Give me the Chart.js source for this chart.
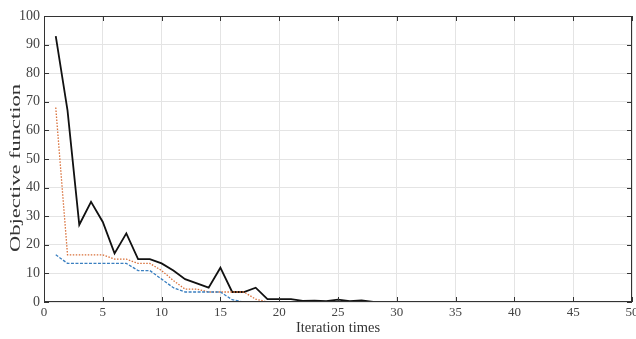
<!DOCTYPE html>
<html>
<head>
<meta charset="utf-8">
<script src="https://cdn.jsdelivr.net/npm/chart.js@4.4.1/dist/chart.umd.min.js"></script>
<style>
  body { margin: 0; background: #fff; }
  #wrap { width: 636px; height: 339px; }
</style>
</head>
<body>
<div id="wrap"><canvas id="objChart" width="636" height="339"></canvas></div>
<script>
// Iteration numbers
const iterations = [1, 2, 3, 4, 5, 6, 7, 8, 9, 10, 11, 12, 13, 14, 15, 16, 17, 18, 19, 20,
    21, 22, 23, 24, 25, 26, 27, 28, 29, 30, 31, 32, 33, 34, 35, 36, 37, 38, 39, 40,
    41, 42, 43, 44, 45, 46, 47, 48, 49, 50];

// Objective function values
const blackSeries = [93, 67, 27, 35, 28, 17, 24, 15, 15, 13.5, 11, 8, 6.5, 5, 12, 3.5, 3.5, 5, 1, 1,
    1, 0.4, 0.5, 0.3, 0.8, 0.3, 0.6, 0, 0, 0, 0, 0, 0, 0, 0, 0, 0, 0, 0, 0,
    0, 0, 0, 0, 0, 0, 0, 0, 0, 0];
const orangeSeries = [68, 16.5, 16.5, 16.5, 16.5, 15, 15, 13.5, 13.5, 11, 7.5, 4.5, 4.5, 3.5, 3.5, 3.5, 3.5, 1, 0, 0,
    0, 0, 0, 0, 0, 0, 0, 0, 0, 0, 0, 0, 0, 0, 0, 0, 0, 0, 0, 0,
    0, 0, 0, 0, 0, 0, 0, 0, 0, 0];
const blueSeries = [16.5, 13.5, 13.5, 13.5, 13.5, 13.5, 13.5, 11, 11, 8, 5, 3.5, 3.5, 3.5, 3.5, 0.8, 0, 0, 0, 0,
    0, 0, 0, 0, 0, 0, 0, 0, 0, 0, 0, 0, 0, 0, 0, 0, 0, 0, 0, 0,
    0, 0, 0, 0, 0, 0, 0, 0, 0, 0];

const xTitle = 'Iteration times';
const yTitle = 'Objective function';

function toPoints(values) {
    return values.map((v, i) => ({ x: iterations[i], y: v }));
}

// Box on top/right plus inward ticks, MATLAB style; also the y title
// (the source picture is stretched vertically, so the title is too)
const boxPlugin = {
    id: 'boxPlugin',
    afterDraw(chart) {
        const ctx = chart.ctx;
        const a = chart.chartArea;
        const xs = chart.scales.x;
        const ys = chart.scales.y;
        ctx.save();
        ctx.strokeStyle = '#333';
        ctx.lineWidth = 1;
        ctx.strokeRect(a.left + 0.5, a.top + 0.5, a.right - a.left - 1, a.bottom - a.top - 1);
        ctx.beginPath();
        xs.ticks.forEach(t => {
            const px = Math.round(xs.getPixelForValue(t.value)) + 0.5;
            ctx.moveTo(px, a.bottom); ctx.lineTo(px, a.bottom - 5);
            ctx.moveTo(px, a.top); ctx.lineTo(px, a.top + 5);
        });
        ys.ticks.forEach(t => {
            const py = Math.round(ys.getPixelForValue(t.value)) + 0.5;
            ctx.moveTo(a.left, py); ctx.lineTo(a.left + 5, py);
            ctx.moveTo(a.right, py); ctx.lineTo(a.right - 5, py);
        });
        ctx.stroke();

        // y axis title
        ctx.translate(16, 168);
        ctx.rotate(-Math.PI / 2);
        ctx.scale(1.5, 1);
        ctx.fillStyle = '#333';
        ctx.font = '15px "Liberation Serif"';
        ctx.textAlign = 'center';
        ctx.textBaseline = 'middle';
        ctx.fillText(yTitle, 0, 0);
        ctx.restore();
    }
};

const tickFont = { family: 'Liberation Serif', size: 13 };

new Chart(document.getElementById('objChart').getContext('2d'), {
    type: 'line',
    data: {
        datasets: [
            {
                data: toPoints(blueSeries),
                borderColor: '#3a7fc0',
                borderWidth: 1.3,
                borderDash: [3, 1.5],
                pointRadius: 0,
                tension: 0,
                fill: false
            },
            {
                data: toPoints(orangeSeries),
                borderColor: '#d9703a',
                borderWidth: 1.3,
                borderDash: [1.5, 1.5],
                pointRadius: 0,
                tension: 0,
                fill: false
            },
            {
                data: toPoints(blackSeries),
                borderColor: '#111',
                borderWidth: 1.8,
                pointRadius: 0,
                tension: 0,
                fill: false
            }
        ]
    },
    options: {
        responsive: false,
        animation: false,
        layout: { padding: { top: 16, right: 4, left: 0, bottom: 0 } },
        plugins: {
            legend: { display: false },
            tooltip: { enabled: false }
        },
        scales: {
            x: {
                type: 'linear',
                min: 0,
                max: 50,
                ticks: { stepSize: 5, color: '#444', font: tickFont, padding: 3, maxRotation: 0 },
                grid: { color: '#e4e4e4', drawTicks: false },
                border: { display: false },
                title: { display: true, text: xTitle, color: '#333', font: { family: 'Liberation Serif', size: 14.5 }, padding: { top: 0, bottom: 2 } },
                afterFit(scale) {
                    scale.height = 37;
                    scale.paddingRight = 0;
                    scale.paddingLeft = 0;
                }
            },
            y: {
                min: 0,
                max: 100,
                ticks: { stepSize: 10, color: '#444', font: { family: 'Liberation Serif', size: 14 }, padding: 4 },
                grid: { color: '#e4e4e4', drawTicks: false },
                border: { display: false },
                title: { display: false },
                afterFit(scale) { scale.width = 44; }
            }
        }
    },
    plugins: [boxPlugin]
});
</script>
</body>
</html>
